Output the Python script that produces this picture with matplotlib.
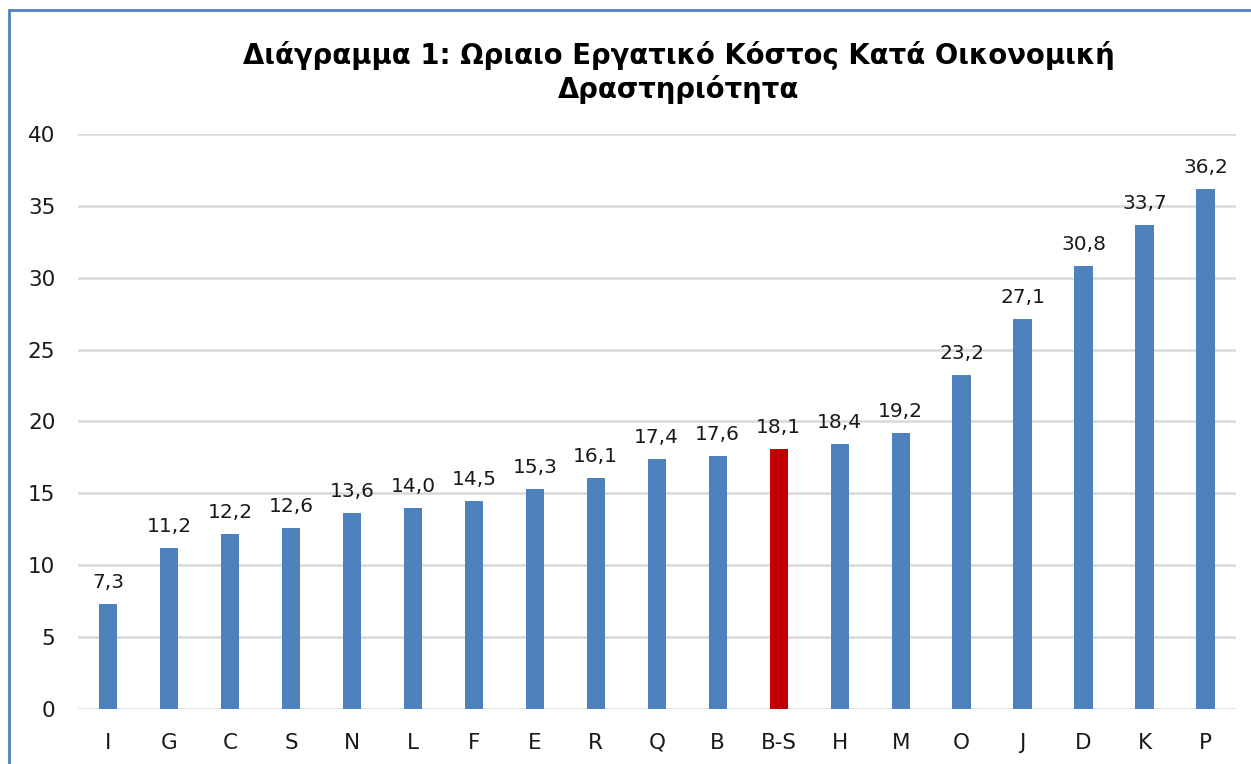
import matplotlib
matplotlib.use('Agg')
import matplotlib.pyplot as plt
from matplotlib.patches import Rectangle

## Data
categories = ['I', 'G', 'C', 'S', 'N', 'L', 'F', 'E', 'R', 'Q', 'B', 'B-S',
              'H', 'M', 'O', 'J', 'D', 'K', 'P']
values = [7.3, 11.2, 12.2, 12.6, 13.6, 14.0, 14.5, 15.3, 16.1, 17.4, 17.6, 18.1,
          18.4, 19.2, 23.2, 27.1, 30.8, 33.7, 36.2]
highlight = 'B-S'
title = 'Διάγραμμα 1: Ωριαιο Εργατικό Κόστος Κατά Οικονομική\nΔραστηριότητα'

blue = '#4F81BD'
red = '#C00000'
colors = [red if c == highlight else blue for c in categories]

fig = plt.figure(figsize=(12.51, 7.64), dpi=100)
ax = fig.add_axes([0.062, 0.072, 0.926, 0.7526])

x = range(len(categories))
bars = ax.bar(x, values, width=0.30, color=colors, zorder=3)

for xi, v in zip(x, values):
    ax.annotate(f'{v:.1f}'.replace('.', ','), (xi, v), xytext=(0, 16),
                textcoords='offset pixels', ha='center', va='baseline',
                fontsize=14.5, color='#1a1a1a')

ax.set_xlim(-0.5, len(categories) - 0.5)
ax.set_ylim(0, 40)
ax.set_yticks(range(0, 41, 5))
ax.set_xticks(list(x))
ax.set_xticklabels(categories)
ax.tick_params(axis='both', length=0, labelsize=15.5, colors='#1a1a1a')
ax.tick_params(axis='x', pad=17)
ax.tick_params(axis='y', pad=16)
ax.grid(axis='y', color='#d9d9d9', lw=1.8, zorder=0)
for s in ax.spines.values():
    s.set_visible(False)

fig.text(0.5424, 0.905, title, ha='center', va='center', fontsize=19.8,
         fontweight='bold', linespacing=1.22)

# chart frame (only left and top edges visible in the crop)
fig.patches.append(Rectangle((9 / 1251, -0.05), 1.1, 1 - 10 / 764 + 0.05,
                             transform=fig.transFigure, fill=False,
                             edgecolor=blue, lw=2))

fig.savefig('out.png', dpi=100)
